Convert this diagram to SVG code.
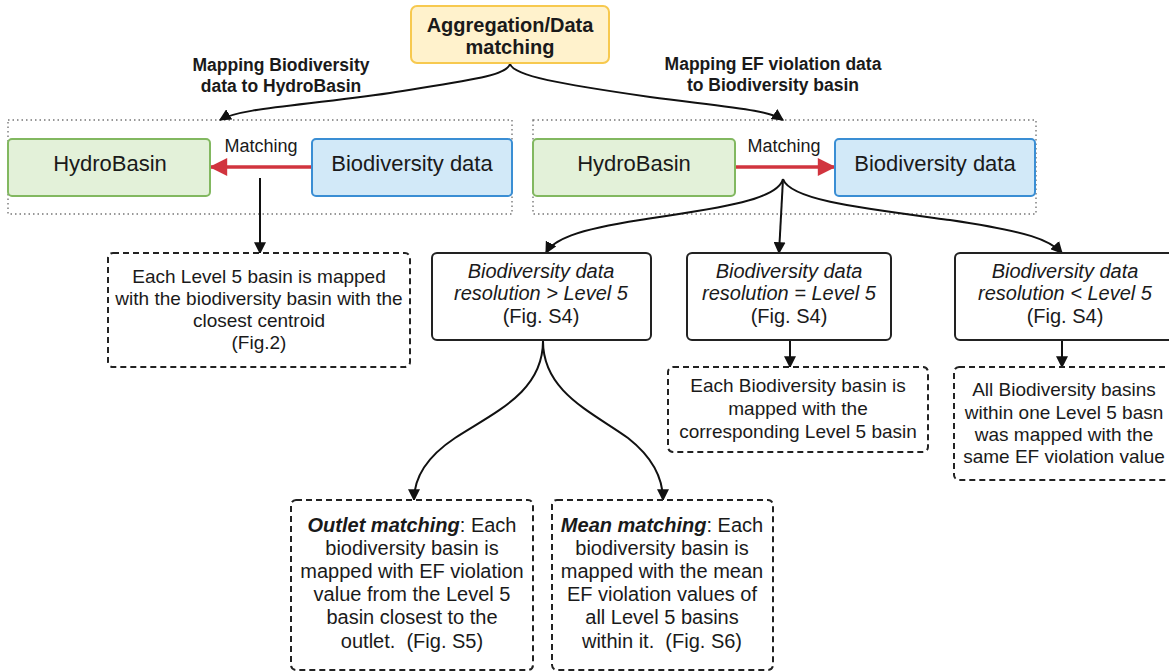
<svg xmlns="http://www.w3.org/2000/svg" width="1169" height="672" viewBox="0 0 1169 672">
  <style>
    text { font-family: "Liberation Sans", Arial, sans-serif; fill: #1a1a1a; text-anchor: middle; }
    .title { font-size: 20px; font-weight: bold; }
    .lbl { font-size: 17.5px; font-weight: bold; }
    .big { font-size: 22px; }
    .small { font-size: 18px; }
    .dec { font-size: 20px; }
    .body { font-size: 19px; }
    .body2 { font-size: 20px; }
    .it { font-style: italic; }
    .group { fill: none; stroke: #777; stroke-width: 1.4; stroke-dasharray: 1.5 3; }
    .hydro { fill: #e3f1d9; stroke: #82b860; stroke-width: 2; }
    .bio { fill: #d2e9f8; stroke: #3a8ed4; stroke-width: 2; }
    .solid { fill: #fff; stroke: #222; stroke-width: 2; }
    .dash { fill: #fff; stroke: #222; stroke-width: 2; stroke-dasharray: 6 4; }
    .conn { fill: none; stroke: #111; stroke-width: 2; }
    .red { fill: none; stroke: #d1343e; stroke-width: 3.5; }
  </style>
  <defs>
    <marker id="arr" viewBox="0 0 10 10" refX="9" refY="5" markerWidth="12" markerHeight="12" markerUnits="userSpaceOnUse" orient="auto">
      <path d="M0,0 L10,5 L0,10 Z" fill="#111"/>
    </marker>
    <marker id="arrRed" viewBox="0 0 10 10" refX="9" refY="5" markerWidth="22" markerHeight="18" markerUnits="userSpaceOnUse" orient="auto">
      <path d="M0,0 L10,5 L0,10 Z" fill="#d1343e"/>
    </marker>
  </defs>
  <rect width="1169" height="672" fill="#fff"/>

  <!-- grouping frames -->
  <rect class="group" x="8" y="120" width="504" height="94"/>
  <rect class="group" x="533" y="120" width="503" height="94"/>

  <!-- connectors -->
  <g id="connectors">
    <path class="conn" marker-end="url(#arr)" d="M510,64 C506,76 470,80 390,93 C300,106 240,108 220,120"/>
    <path class="conn" marker-end="url(#arr)" d="M510,64 C514,76 560,84 650,97 C735,108 768,110 783,120"/>
    <path class="red" marker-end="url(#arrRed)" d="M312,167 L211,167"/>
    <path class="red" marker-end="url(#arrRed)" d="M735,167 L834,167"/>
    <path class="conn" marker-end="url(#arr)" d="M260,178 L260,253"/>
    <path class="conn" marker-end="url(#arr)" d="M783,179 C778,200 720,208 640,220 C575,230 553,240 546,253"/>
    <path class="conn" marker-end="url(#arr)" d="M783,179 L779,253"/>
    <path class="conn" marker-end="url(#arr)" d="M783,179 C790,200 860,208 950,220 C1030,232 1050,240 1062,253"/>
    <path class="conn" marker-end="url(#arr)" d="M790,340 L790,367"/>
    <path class="conn" marker-end="url(#arr)" d="M1062,340 L1062,367"/>
    <path class="conn" marker-end="url(#arr)" d="M543,341 C543,392 495,412 455,438 C422,460 414,482 414,500"/>
    <path class="conn" marker-end="url(#arr)" d="M543,341 C543,392 592,412 628,438 C656,460 663,482 663,500"/>
  </g>

  <g id="aggregation">
    <rect x="411" y="6" width="198" height="57" rx="6" fill="#fff2cc" stroke="#f7c94f" stroke-width="2"/>
    <text class="title" x="510" y="32">Aggregation/Data</text>
    <text class="title" x="510" y="54">matching</text>
  </g>

  <g id="label-left">
    <text class="lbl" x="281" y="71">Mapping Biodiversity</text>
    <text class="lbl" x="281" y="92">data to HydroBasin</text>
  </g>
  <g id="label-right">
    <text class="lbl" x="773" y="70">Mapping EF violation data</text>
    <text class="lbl" x="773" y="91">to Biodiversity basin</text>
  </g>

  <g id="hydro-left">
    <rect class="hydro" x="8" y="139" width="202" height="57" rx="4"/>
    <text class="big" x="110" y="171">HydroBasin</text>
  </g>
  <g id="bio-left">
    <rect class="bio" x="312" y="139" width="200" height="57" rx="4"/>
    <text class="big" x="412" y="171">Biodiversity data</text>
  </g>
  <text class="small" x="261" y="152">Matching</text>

  <g id="hydro-right">
    <rect class="hydro" x="533" y="139" width="202" height="57" rx="4"/>
    <text class="big" x="634" y="171">HydroBasin</text>
  </g>
  <g id="bio-right">
    <rect class="bio" x="835" y="139" width="200" height="57" rx="4"/>
    <text class="big" x="935" y="171">Biodiversity data</text>
  </g>
  <text class="small" x="784" y="152">Matching</text>

  <g id="centroid">
    <rect class="dash" x="108" y="253" width="302" height="114" rx="5"/>
    <text class="body" x="259" y="283">Each Level 5 basin is mapped</text>
    <text class="body" x="259" y="305">with the biodiversity basin with the</text>
    <text class="body" x="259" y="327">closest centroid</text>
    <text class="body" x="259" y="349">(Fig.2)</text>
  </g>

  <g id="res-greater">
    <rect class="solid" x="432" y="253" width="219" height="87" rx="5"/>
    <text class="dec it" x="541" y="278">Biodiversity data</text>
    <text class="dec it" x="541" y="300">resolution &gt; Level 5</text>
    <text class="dec" x="541" y="323">(Fig. S4)</text>
  </g>

  <g id="res-equal">
    <rect class="solid" x="687" y="253" width="204" height="87" rx="5"/>
    <text class="dec it" x="789" y="278">Biodiversity data</text>
    <text class="dec it" x="789" y="300">resolution = Level 5</text>
    <text class="dec" x="789" y="323">(Fig. S4)</text>
  </g>

  <g id="res-less">
    <rect class="solid" x="955" y="253" width="222" height="87" rx="5"/>
    <text class="dec it" x="1065" y="278">Biodiversity data</text>
    <text class="dec it" x="1065" y="300">resolution &lt; Level 5</text>
    <text class="dec" x="1065" y="323">(Fig. S4)</text>
  </g>

  <g id="corresponding">
    <rect class="dash" x="668" y="367" width="260" height="85" rx="5"/>
    <text class="body" x="798" y="392">Each Biodiversity basin is</text>
    <text class="body" x="798" y="415">mapped with the</text>
    <text class="body" x="798" y="438">corresponding Level 5 basin</text>
  </g>

  <g id="same-value">
    <rect class="dash" x="954" y="367" width="224" height="113" rx="5"/>
    <text class="body" x="1064" y="396">All Biodiversity basins</text>
    <text class="body" x="1064" y="419">within one Level 5 basn</text>
    <text class="body" x="1064" y="441">was mapped with the</text>
    <text class="body" x="1064" y="463">same EF violation value</text>
  </g>

  <g id="outlet">
    <rect class="dash" x="291" y="500" width="242" height="170" rx="5"/>
    <text class="body2" x="412" y="532"><tspan font-weight="bold" font-style="italic">Outlet matching</tspan>: Each</text>
    <text class="body2" x="412" y="555">biodiversity basin is</text>
    <text class="body2" x="412" y="578">mapped with EF violation</text>
    <text class="body2" x="412" y="601">value from the Level 5</text>
    <text class="body2" x="412" y="624">basin closest to the</text>
    <text class="body2" x="412" y="648">outlet.&#160; (Fig. S5)</text>
  </g>

  <g id="mean">
    <rect class="dash" x="552" y="500" width="221" height="170" rx="5"/>
    <text class="body2" x="662" y="532"><tspan font-weight="bold" font-style="italic">Mean matching</tspan>: Each</text>
    <text class="body2" x="662" y="555">biodiversity basin is</text>
    <text class="body2" x="662" y="578">mapped with the mean</text>
    <text class="body2" x="662" y="601">EF violation values of</text>
    <text class="body2" x="662" y="624">all Level 5 basins</text>
    <text class="body2" x="662" y="648">within it.&#160; (Fig. S6)</text>
  </g>
</svg>
